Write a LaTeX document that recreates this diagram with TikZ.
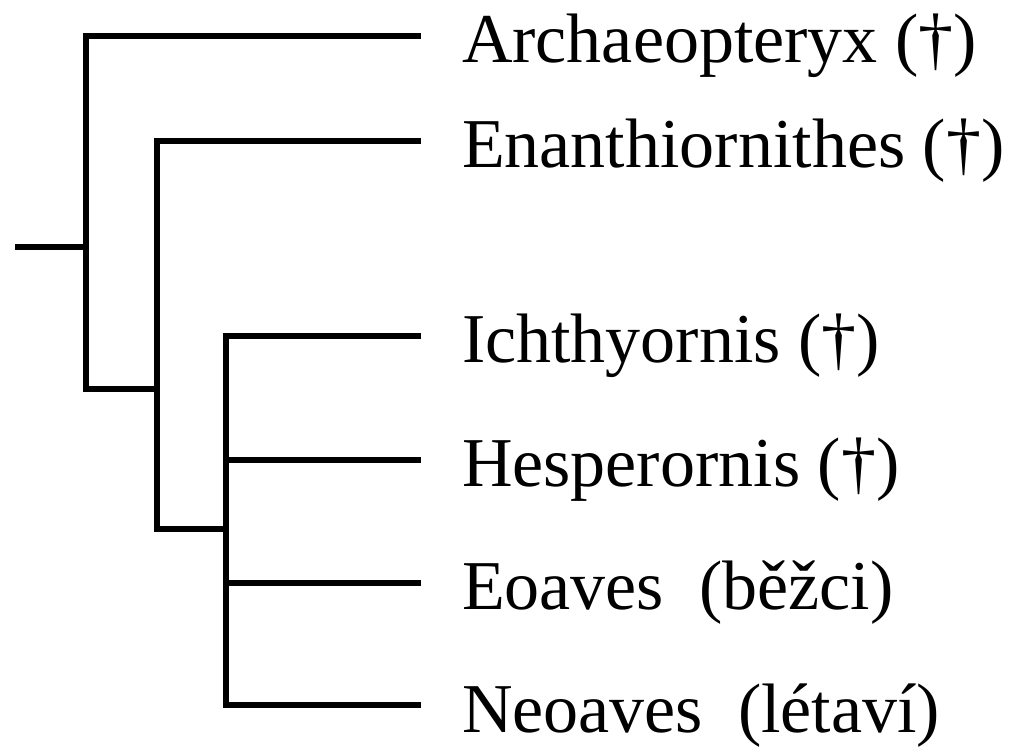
\documentclass[tikz,border=0pt]{standalone}
\usepackage{fontspec}
\setmainfont{Liberation Serif}
\begin{document}
\begin{tikzpicture}[x=1pt,y=-1pt,
  branch/.style={line width=6pt,line join=miter,line cap=butt,black},
  leaf/.style={anchor=base west,inner sep=0pt,outer sep=0pt,font=\fontsize{70}{84}\selectfont}]
\useasboundingbox (0,0) rectangle (1013,747);
% internal nodes
\coordinate (r0) at (15,247);
\coordinate (n1) at (86,247);
\coordinate (n2) at (156.5,389);
\coordinate (n3) at (226,529);
% leaf tips
\coordinate (tA) at (421,35.5);
\coordinate (tE) at (421,141);
\coordinate (tI) at (421,335.5);
\coordinate (tH) at (421,459.5);
\coordinate (tO) at (421,582.5);
\coordinate (tN) at (421,705);
% labels
\node[leaf] (lA) at (462,62) {Archaeopteryx (†)};
\node[leaf] (lE) at (462,167.5) {Enanthiornithes (†)};
\node[leaf] (lI) at (462,362) {Ichthyornis (†)};
\node[leaf] (lH) at (462,486) {Hesperornis (†)};
\node[leaf] (lO) at (462,609) {Eoaves\ \ (běžci)};
\node[leaf] (lN) at (462,732) {Neoaves\ \ (létaví)};
% branches
\draw[branch] (r0) -- (n1);
\draw[branch] (tA) -| (n1) |- (n2);
\draw[branch] (tE) -| (n2) |- (n3);
\draw[branch] (tI) -| (n3) |- (tN);
\draw[branch] (n3 |- tH) -- (tH);
\draw[branch] (n3 |- tO) -- (tO);
\end{tikzpicture}
\end{document}
